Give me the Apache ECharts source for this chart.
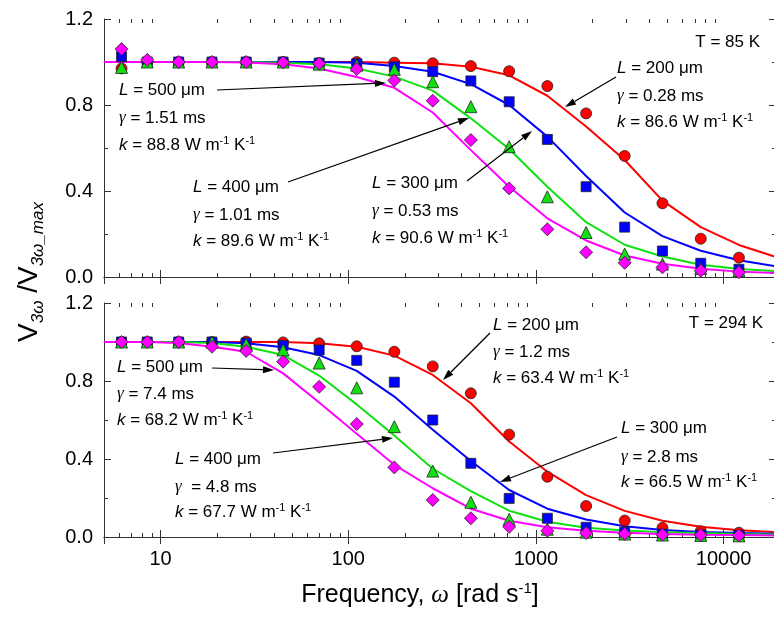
<!DOCTYPE html>
<html><head><meta charset="utf-8">
<script src="https://cdn.jsdelivr.net/npm/echarts@6/dist/echarts.min.js"></script>
<style>html,body{margin:0;padding:0;background:#fff}#c{width:774px;height:622px}</style>
</head><body><div id="c"></div>
<script>
// ---------- data ----------
const freqLine = [5, 6.2, 8.5, 12.5, 18.8, 28.6, 45, 70, 111, 176, 282, 450, 720, 1150, 1850, 2970, 4720, 7550, 12060, 19100];
const freqData = [6.2, 8.5, 12.5, 18.8, 28.6, 45, 70, 111, 176, 282, 450, 720, 1150, 1850, 2970, 4720, 7550, 12060];
const xTickLabels = ['10', '100', '1000', '10000'];
const minorTickValues = [6, 7, 8, 9, 20, 30, 40, 50, 60, 70, 80, 90, 200, 300, 400, 500, 600, 700, 800, 900, 2000, 3000, 4000, 5000, 6000, 7000, 8000, 9000];

// T = 85 K, measured points
const top200 = [0.97, 1.0, 1.0, 1.0, 1.0, 1.0, 0.995, 1.0, 0.997, 0.994, 0.981, 0.957, 0.888, 0.761, 0.563, 0.343, 0.178, 0.09];
const top300 = [1.025, 1.0, 1.0, 1.0, 1.0, 1.0, 0.995, 0.992, 0.978, 0.955, 0.912, 0.815, 0.64, 0.42, 0.232, 0.121, 0.064, 0.036];
const top400 = [0.975, 1.0, 1.0, 1.0, 1.0, 1.0, 0.99, 0.985, 0.966, 0.908, 0.792, 0.606, 0.373, 0.207, 0.107, 0.06, 0.04, 0.03];
const top500 = [1.06, 1.01, 1.0, 1.0, 1.0, 0.998, 0.993, 0.967, 0.914, 0.82, 0.637, 0.412, 0.222, 0.115, 0.066, 0.045, 0.029, 0.022];
// T = 85 K, fitted curves
const topFit200 = [1.0, 1.0, 1.0, 1.0, 1.0, 1.0, 1.0, 1.0, 1.0, 0.997, 0.994, 0.978, 0.938, 0.843, 0.7, 0.544, 0.355, 0.232, 0.149, 0.092];
const topFit300 = [1.0, 1.0, 1.0, 1.0, 1.0, 1.0, 1.0, 1.0, 0.997, 0.981, 0.955, 0.897, 0.8, 0.653, 0.47, 0.3, 0.19, 0.122, 0.078, 0.049];
const topFit400 = [1.0, 1.0, 1.0, 1.0, 1.0, 1.0, 0.996, 0.99, 0.97, 0.932, 0.867, 0.738, 0.595, 0.42, 0.255, 0.15, 0.095, 0.057, 0.037, 0.027];
const topFit500 = [1.0, 1.0, 1.0, 1.0, 1.0, 0.998, 0.99, 0.97, 0.93, 0.88, 0.765, 0.59, 0.42, 0.273, 0.17, 0.1, 0.062, 0.038, 0.025, 0.018];

// T = 294 K, measured points
const bot200 = [1.0, 1.0, 1.0, 1.0, 1.002, 0.998, 0.993, 0.978, 0.95, 0.875, 0.737, 0.525, 0.309, 0.159, 0.084, 0.047, 0.03, 0.022];
const bot300 = [1.0, 1.0, 1.0, 1.0, 0.995, 0.982, 0.959, 0.906, 0.794, 0.6, 0.378, 0.198, 0.096, 0.05, 0.025, 0.015, 0.01, 0.008];
const bot400 = [1.0, 1.0, 1.0, 1.0, 0.988, 0.959, 0.892, 0.765, 0.566, 0.338, 0.178, 0.091, 0.04, 0.025, 0.015, 0.01, 0.008, 0.006];
const bot500 = [1.0, 1.0, 1.0, 0.976, 0.954, 0.899, 0.77, 0.579, 0.357, 0.19, 0.096, 0.052, 0.032, 0.02, 0.016, 0.012, 0.01, 0.008];
// T = 294 K, fitted curves
const botFit200 = [1.0, 1.0, 1.0, 1.0, 1.0, 1.0, 1.0, 0.993, 0.976, 0.93, 0.831, 0.686, 0.49, 0.335, 0.215, 0.134, 0.083, 0.053, 0.035, 0.025];
const botFit300 = [1.0, 1.0, 1.0, 1.0, 1.0, 0.993, 0.973, 0.933, 0.852, 0.72, 0.55, 0.39, 0.241, 0.145, 0.09, 0.055, 0.036, 0.026, 0.02, 0.016];
const botFit400 = [1.0, 1.0, 1.0, 1.0, 0.995, 0.976, 0.933, 0.828, 0.68, 0.52, 0.35, 0.235, 0.135, 0.078, 0.048, 0.033, 0.025, 0.02, 0.016, 0.013];
const botFit500 = [1.0, 1.0, 1.0, 0.995, 0.976, 0.95, 0.839, 0.69, 0.53, 0.37, 0.25, 0.145, 0.083, 0.05, 0.032, 0.022, 0.016, 0.012, 0.01, 0.008];

// ---------- styles ----------
const FONT = '"Liberation Sans", Arial, Helvetica, sans-serif';
const SERIF = '"Liberation Serif", "Times New Roman", serif';
const AX = '#333';
const C200 = '#ff0000', C300 = '#0000ff', C400 = '#10e010', C500 = '#ff00ff';
const X_MIN = 5, X_MAX = 19000, Y_MIN = 0, Y_MAX = 1.2;

const chart = echarts.init(document.getElementById('c'), null, {renderer: 'canvas'});

function xAx(grid, pos, labels) {
  return {
    type: 'log', logBase: 10, gridIndex: grid, position: pos, min: X_MIN, max: X_MAX,
    axisLine: {show: true, lineStyle: {color: AX, width: 1}},
    axisTick: {show: true, inside: true, length: 7, lineStyle: {color: AX, width: 1}},
    minorTick: {show: false},
    splitLine: {show: false},
    axisLabel: {
      show: labels, margin: 12, color: '#000', fontSize: 20, fontFamily: FONT,
      showMinLabel: false, showMaxLabel: false,
      formatter: function (v) {
        const s = String(Math.round(v));
        return xTickLabels.indexOf(s) >= 0 ? s : '';
      }
    }
  };
}
function yAx(grid, pos, labels) {
  return {
    type: 'value', gridIndex: grid, position: pos, min: Y_MIN, max: Y_MAX, interval: 0.4,
    axisLine: {show: true, lineStyle: {color: AX, width: 1}},
    axisTick: {show: true, inside: true, length: 7, lineStyle: {color: AX, width: 1}},
    minorTick: {show: true, splitNumber: 2, length: 4, lineStyle: {color: AX, width: 1}},
    splitLine: {show: false},
    axisLabel: {show: labels, margin: 11, color: '#000', fontSize: 20, fontFamily: FONT,
      formatter: function (v) { return v.toFixed(1); }}
  };
}

function lineS(grid, vals, color) {
  return {
    type: 'line', xAxisIndex: grid * 2, yAxisIndex: grid * 2,
    data: freqLine.map(function (f, i) { return [f, vals[i]]; }),
    symbol: 'none', showSymbol: false, smooth: false, silent: true,
    lineStyle: {color: color, width: 2}, z: 2, animation: false
  };
}
function dotS(grid, vals, symbol, size, color) {
  return {
    type: 'scatter', xAxisIndex: grid * 2, yAxisIndex: grid * 2,
    data: freqData.map(function (f, i) { return [f, vals[i]]; }),
    symbol: symbol, symbolSize: size, silent: true,
    itemStyle: {color: color, borderColor: '#222', borderWidth: 0.8, opacity: 1},
    z: 3, animation: false
  };
}
function minorS(grid) {
  return {
    type: 'custom', xAxisIndex: grid * 2, yAxisIndex: grid * 2, silent: true, animation: false,
    data: minorTickValues.map(function (v) { return [v, 0]; }),
    renderItem: function (params, api) {
      const v = api.value(0);
      const b = api.coord([v, Y_MIN]);
      const t = api.coord([v, Y_MAX]);
      const x = Math.round(b[0]) + 0.5;
      const st = {stroke: AX, lineWidth: 1};
      return {type: 'group', children: [
        {type: 'line', shape: {x1: x, y1: b[1], x2: x, y2: b[1] - 4}, style: st},
        {type: 'line', shape: {x1: x, y1: t[1], x2: x, y2: t[1] + 4}, style: st}
      ]};
    }, z: 1
  };
}

// ---------- annotations ----------
const richAnn = {
  i: {fontSize: 17, fontFamily: FONT, fontStyle: 'italic', fill: '#000', color: '#000'},
  g: {fontSize: 17, fontFamily: SERIF, fontStyle: 'italic', fill: '#000', color: '#000'},
  n: {fontSize: 17, fontFamily: FONT, fill: '#000', color: '#000'},
  s: {fontSize: 11, fontFamily: FONT, fill: '#000', color: '#000', verticalAlign: 'top', lineHeight: 11}
};
function txt(x, y, text, align) {
  return {
    type: 'text', x: x, y: y, z: 100, silent: true,
    style: {text: text, rich: richAnn, fontSize: 17, fontFamily: FONT, fill: '#000', lineHeight: 20,
      align: align || 'left', textAlign: align || 'left', verticalAlign: 'middle', textVerticalAlign: 'middle'}
  };
}
function block(x, ys, L, g, k, gSpace) {
  return [
    txt(x, ys[0], '{i|L}{n| = ' + L + ' μm}'),
    txt(x, ys[1], '{g|γ}{n|' + (gSpace ? '  ' : ' ') + '= ' + g + ' ms}'),
    txt(x, ys[2], '{i|k}{n| = ' + k + ' W m}{s|-1}{n| K}{s|-1}')
  ];
}
function arrow(x1, y1, x2, y2) {
  const a = Math.atan2(y2 - y1, x2 - x1);
  const len = 11, w = 3.5;
  const bx = x2 - len * Math.cos(a), by = y2 - len * Math.sin(a);
  const px = -Math.sin(a) * w, py = Math.cos(a) * w;
  return [
    {type: 'line', z: 100, silent: true, shape: {x1: x1, y1: y1, x2: bx, y2: by}, style: {stroke: '#000', lineWidth: 1.2}},
    {type: 'polygon', z: 100, silent: true, shape: {points: [[x2, y2], [bx + px, by + py], [bx - px, by - py]]}, style: {fill: '#000'}}
  ];
}

let graphics = [];
// top panel
graphics = graphics.concat(block(119, [90, 118, 145], '500', '1.51', '88.8'));
graphics = graphics.concat(block(193, [187, 215, 241], '400', '1.01', '89.6'));
graphics = graphics.concat(block(372, [183, 211, 238], '300', '0.53', '90.6'));
graphics = graphics.concat(block(617, [68, 96, 122], '200', '0.28', '86.6'));
graphics.push(txt(760, 42, 'T = 85 K', 'right'));
graphics = graphics.concat(arrow(217, 90, 386, 83));
graphics = graphics.concat(arrow(288, 182, 469, 118));
graphics = graphics.concat(arrow(467, 181, 532, 131));
graphics = graphics.concat(arrow(616, 77, 565, 107));
// bottom panel
graphics = graphics.concat(block(117, [367, 394, 420], '500', '7.4', '68.2'));
graphics = graphics.concat(block(175, [459, 487, 512], '400', '4.8', '67.7', true));
graphics = graphics.concat(block(493, [325, 352, 378], '200', '1.2', '63.4'));
graphics = graphics.concat(block(621, [428, 457, 482], '300', '2.8', '66.5'));
graphics.push(txt(763, 323, 'T = 294 K', 'right'));
graphics = graphics.concat(arrow(212, 368, 274, 370));
graphics = graphics.concat(arrow(273, 453, 393, 438));
graphics = graphics.concat(arrow(490, 333, 443, 380));
graphics = graphics.concat(arrow(617, 437, 500, 482));

// axis titles
graphics.push({
  type: 'text', x: 29, y: 272, rotation: Math.PI / 2, z: 100, silent: true,
  style: {
    text: '{v|V}{s|3ω} {v|/V}{s|3ω_max}',
    rich: {
      v: {fontSize: 28, fontFamily: FONT, lineHeight: 36, fill: '#000', color: '#000'},
      s: {fontSize: 17, fontFamily: FONT, fontStyle: 'italic', lineHeight: 17, verticalAlign: 'bottom', fill: '#000', color: '#000'}
    },
    fontSize: 28, fontFamily: FONT, fill: '#000',
    align: 'center', textAlign: 'center', verticalAlign: 'middle', textVerticalAlign: 'middle'
  }
});
graphics.push({
  type: 'text', x: 420, y: 595, z: 100, silent: true,
  style: {
    text: '{n|Frequency, }{w|ω}{n| [rad s}{s|-1}{n|]}',
    rich: {
      n: {fontSize: 25, fontFamily: FONT, fill: '#000', color: '#000', lineHeight: 28},
      w: {fontSize: 25, fontFamily: SERIF, fontStyle: 'italic', fill: '#000', color: '#000', lineHeight: 28},
      s: {fontSize: 15, fontFamily: FONT, fill: '#000', color: '#000', verticalAlign: 'top', lineHeight: 15}
    },
    fontSize: 25, fontFamily: FONT, fill: '#000',
    align: 'center', textAlign: 'center', verticalAlign: 'middle', textVerticalAlign: 'middle'
  }
});

const option = {
  backgroundColor: '#fff',
  animation: false,
  grid: [
    {left: 104, top: 19, width: 672, height: 258, containLabel: false, outerBoundsMode: 'none'},
    {left: 104, top: 303, width: 672, height: 234, containLabel: false, outerBoundsMode: 'none'}
  ],
  xAxis: [xAx(0, 'bottom', false), xAx(0, 'top', false), xAx(1, 'bottom', true), xAx(1, 'top', false)],
  yAxis: [yAx(0, 'left', true), yAx(0, 'right', false), yAx(1, 'left', true), yAx(1, 'right', false)],
  series: [
    minorS(0), minorS(1),
    lineS(0, topFit200, C200), lineS(0, topFit300, C300), lineS(0, topFit400, C400), lineS(0, topFit500, C500),
    lineS(1, botFit200, C200), lineS(1, botFit300, C300), lineS(1, botFit400, C400), lineS(1, botFit500, C500),
    dotS(0, top200, 'circle', 11, C200), dotS(0, top300, 'rect', 10, C300), dotS(0, top400, 'triangle', 12, C400), dotS(0, top500, 'diamond', 13, C500),
    dotS(1, bot200, 'circle', 11, C200), dotS(1, bot300, 'rect', 10, C300), dotS(1, bot400, 'triangle', 12, C400), dotS(1, bot500, 'diamond', 13, C500)
  ],
  graphic: graphics
};
chart.setOption(option);
</script>
</body></html>
